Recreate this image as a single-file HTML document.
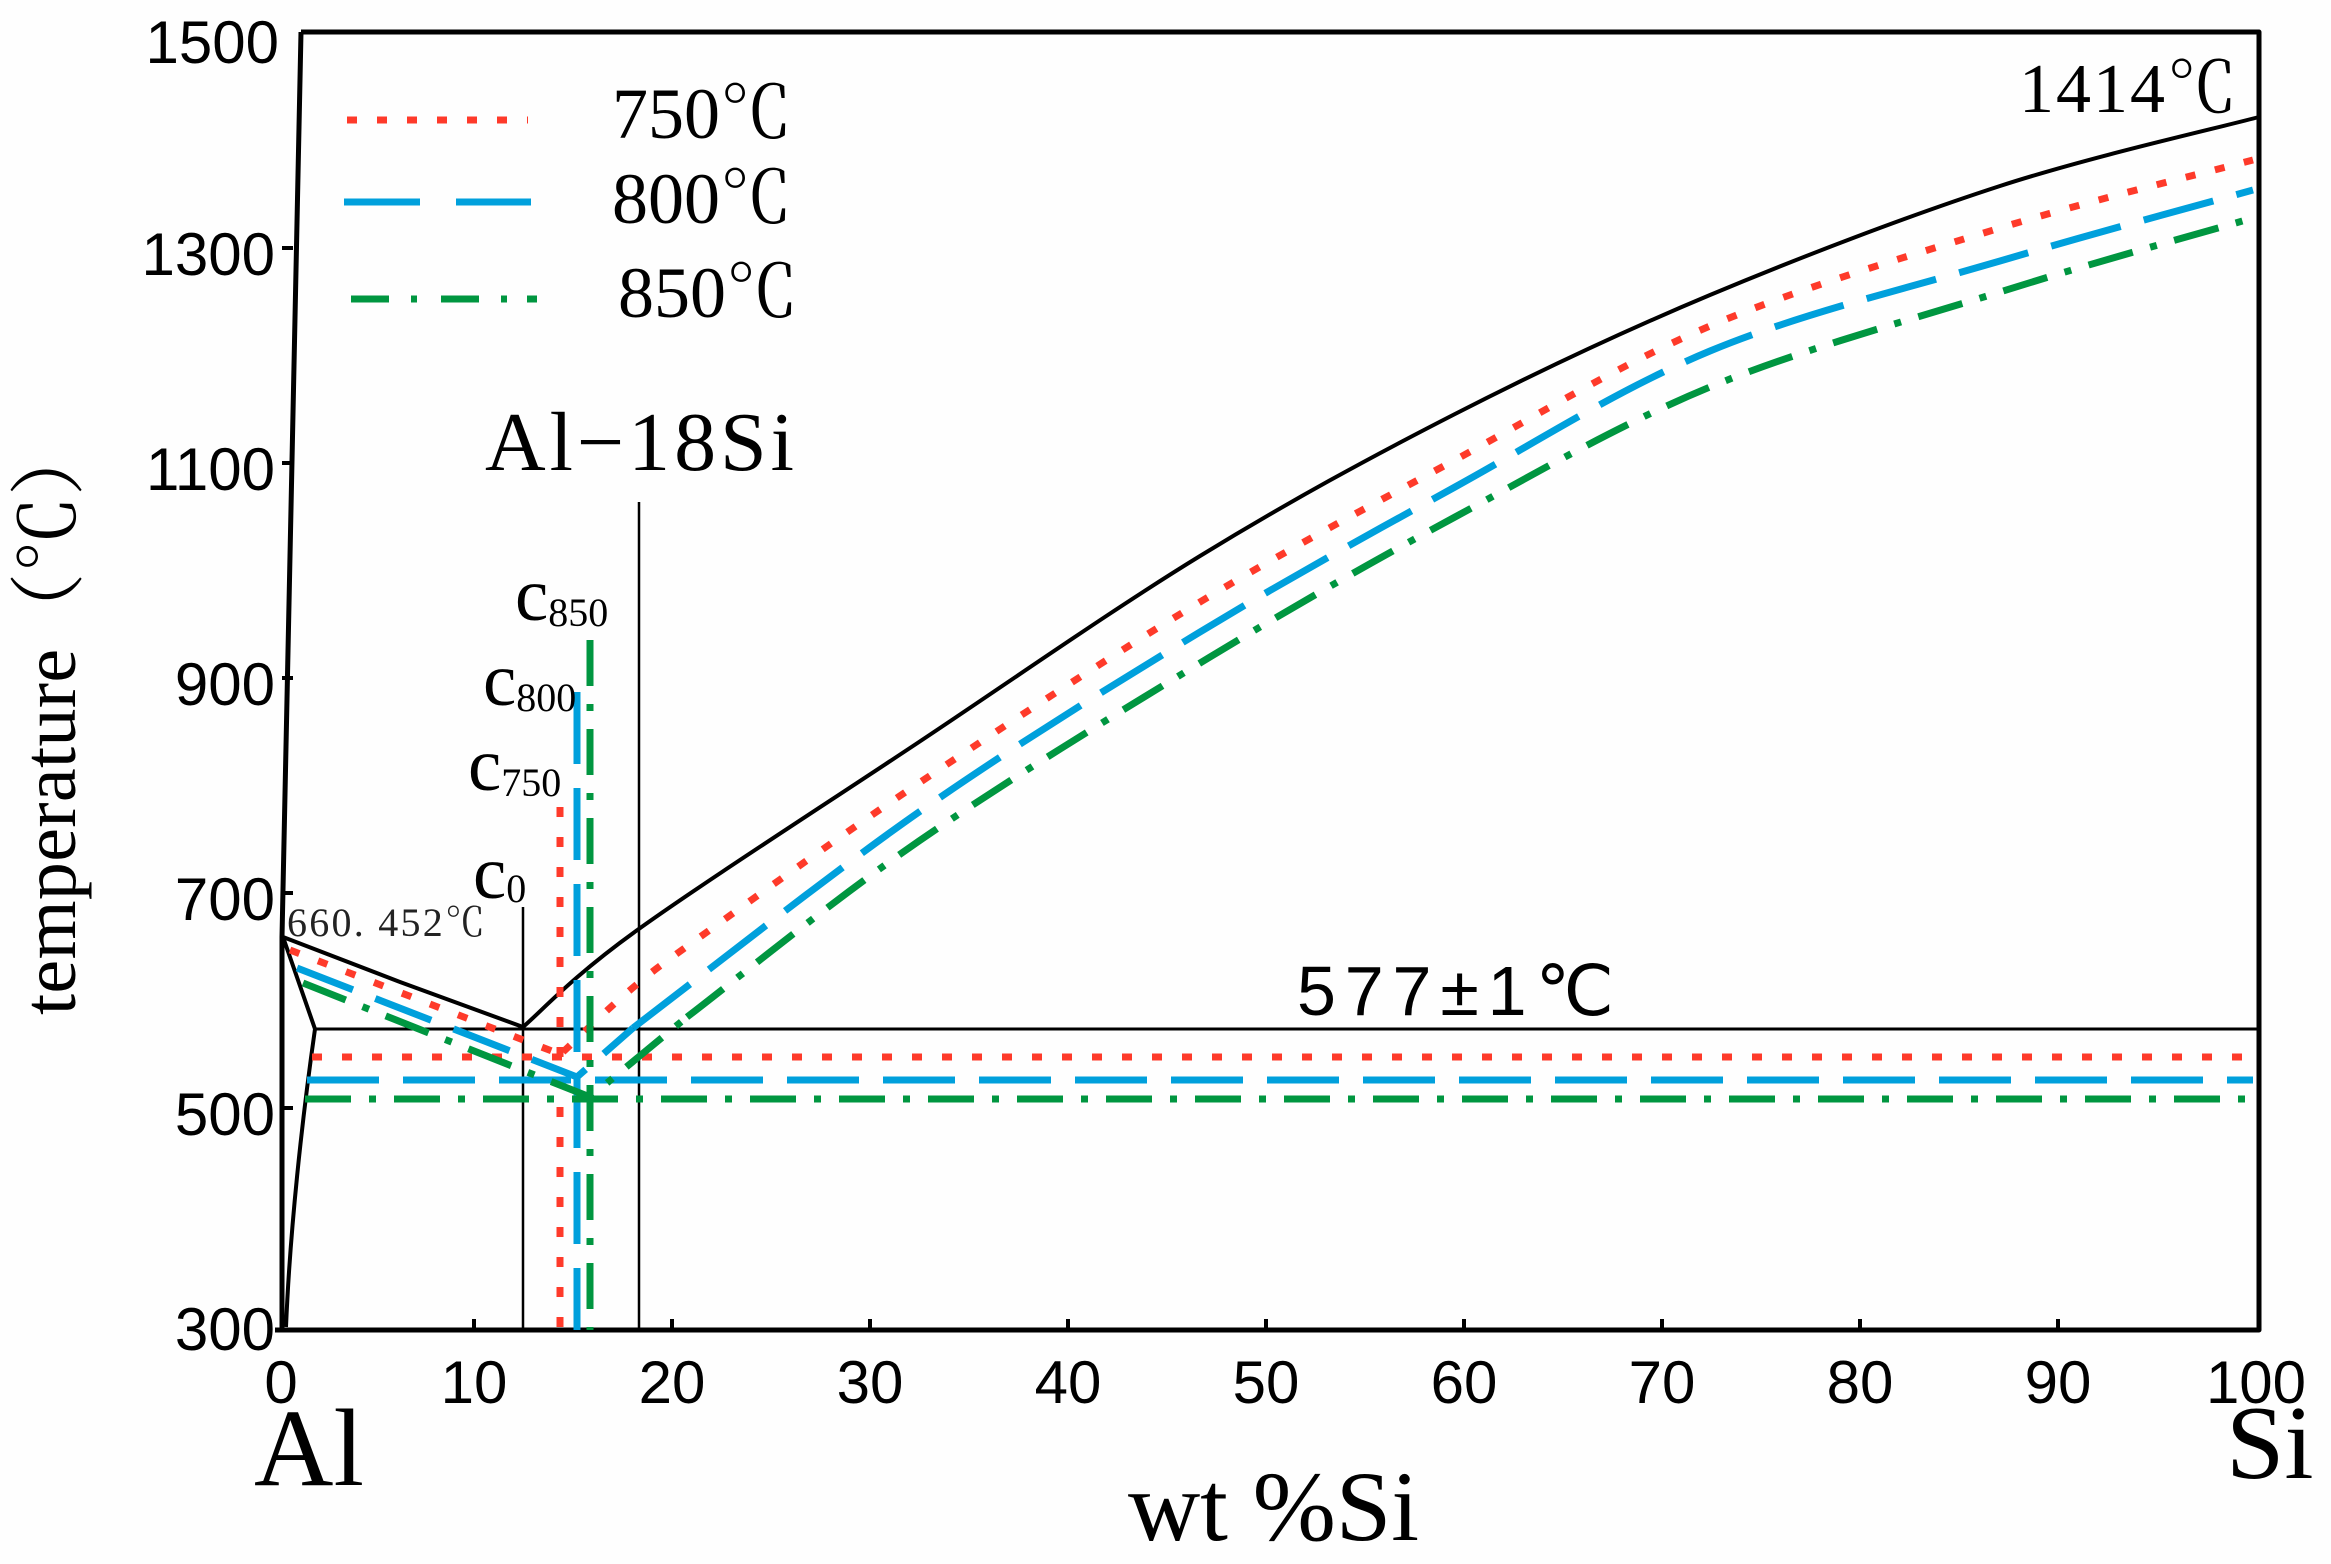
<!DOCTYPE html>
<html><head><meta charset="utf-8"><style>
html,body{margin:0;padding:0;background:#fefefe;}
svg{display:block}
.s{font-family:"Liberation Sans",sans-serif}
.r{font-family:"Liberation Serif","Noto Serif CJK SC",serif}
</style></head><body>
<svg width="2331" height="1564" viewBox="0 0 2331 1564" xmlns="http://www.w3.org/2000/svg">
<rect width="2331" height="1564" fill="#fefefe"/>
<g fill="none" stroke="#000" stroke-linejoin="round">
 <path d="M301,32 L2259,32 L2259,1330 L275,1330" stroke-width="5"/>
 <path d="M301,32 L282,937 L282,1330" stroke-width="5"/>
 <path d="M282,248h11M282,463h11M282,678h11M282,893h11M282,1108h11" stroke-width="4"/>
 <path d="M474,1330v-11M672,1330v-11M870,1330v-11M1068,1330v-11M1266,1330v-11M1464,1330v-11M1662,1330v-11M1860,1330v-11M2058,1330v-11" stroke-width="4"/>
 <path d="M283,937 L315,1029 C302,1120 290,1230 286,1327" stroke-width="4"/>
 <path d="M315,1029 L2259,1029" stroke-width="3"/>
 <path d="M283,937 L400,982 L523,1027" stroke-width="4"/>
 <path d="M523,1027 C541.8,1011 570,978.5 636,931 C702,883.5 825,804.5 919,742 C1013,679.5 1110.7,610.7 1200,556 C1289.3,501.3 1370,457.5 1455,414 C1540,370.5 1619.2,333 1710,295 C1800.8,257 1908.5,215.7 2000,186 C2091.5,156.3 2215.8,128.5 2259,117" stroke-width="4"/>
 <path d="M523,907 V1330 M639,502 V1330" stroke-width="2.5"/>
</g>
<g fill="none" stroke-width="7">
 <g stroke="#fe3a2a" stroke-dasharray="10 20">
  <path d="M290,950 L557,1053"/>
  <path d="M563,1052 C574,1041.8 606.2,1010.2 629,991 C651.8,971.8 651.7,971.7 700,937 C748.3,902.3 835.7,838.8 919,783 C1002.3,727.2 1110.7,655.8 1200,602 C1289.3,548.2 1370,506 1455,460 C1540,414 1619.2,364.7 1710,326 C1800.8,287.3 1909.5,255.7 2000,228 C2090.5,200.3 2210.8,171.3 2253,160"/>
  <path d="M312,1057 H2253"/>
  <path d="M560,807 V1330"/>
  <path d="M347,120 H528"/>
 </g>
 <g stroke="#00a0dc" stroke-dasharray="72 24">
  <path d="M297,968 L577,1077 L633,1028" stroke-dasharray="60 24"/>
  <path d="M633,1028 C680.7,992 824.5,878 919,812 C1013.5,746 1110.7,686.2 1200,632 C1289.3,577.8 1370,533.8 1455,487 C1540,440.2 1619.2,388.7 1710,351 C1800.8,313.3 1909.5,287.8 2000,261 C2090.5,234.2 2210.8,201.8 2253,190"/>
  <path d="M307,1080 H2253"/>
  <path d="M577,692 V1330"/>
  <path d="M344,202 H420 M456,202 H531" stroke-dasharray="none"/>
 </g>
 <g stroke="#009640" stroke-dasharray="46 18 7 18">
  <path d="M303,983 L590,1097 L687,1017"/>
  <path d="M687,1017 C725.7,987.7 831.8,901 919,841 C1006.2,781 1120.7,711 1210,657 C1299.3,603 1371.7,562 1455,517 C1538.3,472 1619.2,424.5 1710,387 C1800.8,349.5 1909.5,320.2 2000,292 C2090.5,263.2 2210.8,230.3 2253,218"/>
  <path d="M305,1099 H2253"/>
  <path d="M590,640 V1330"/>
  <path d="M351,299 H389 M411,299 H417 M441,299 H479 M501,299 H507 M527,299 H537" stroke-dasharray="none"/>
 </g>
</g>
<g class="s" font-size="60" text-anchor="end" fill="#000">
 <text x="279" y="63">1500</text>
 <text x="275" y="275">1300</text>
 <text x="275" y="490">1100</text>
 <text x="275" y="705">900</text>
 <text x="275" y="920">700</text>
 <text x="275" y="1135">500</text>
 <text x="275" y="1350">300</text>
</g>
<g class="s" font-size="60" text-anchor="middle" fill="#000">
 <text x="281" y="1403">0</text>
 <text x="474" y="1403">10</text>
 <text x="672" y="1403">20</text>
 <text x="870" y="1403">30</text>
 <text x="1068" y="1403">40</text>
 <text x="1266" y="1403">50</text>
 <text x="1464" y="1403">60</text>
 <text x="1662" y="1403">70</text>
 <text x="1860" y="1403">80</text>
 <text x="2058" y="1403">90</text>
 <text x="2256" y="1403">100</text>
</g>
<g class="r" font-size="72" fill="#000">
 <text x="612" y="138">750℃</text>
 <text x="612" y="223">800℃</text>
 <text x="618" y="317">850℃</text>
</g>
<text class="r" x="485" y="470" font-size="84" textLength="309">Al−18Si</text>
<text class="r" x="2019" y="112" font-size="70" textLength="218">1414℃</text>
<text class="s" x="1297" y="1015" font-size="70" textLength="317">577±1℃</text>
<text class="r" x="287" y="936" font-size="40" textLength="198" fill="#222">660. 452℃</text>
<g class="r" fill="#000">
 <text x="473" y="898" font-size="75">c<tspan font-size="40" dy="4">0</tspan></text>
 <text x="468" y="790" font-size="75">c<tspan font-size="40" dy="6">750</tspan></text>
 <text x="483" y="705" font-size="75">c<tspan font-size="40" dy="6">800</tspan></text>
 <text x="515" y="620" font-size="75">c<tspan font-size="40" dy="6">850</tspan></text>
</g>
<text class="r" x="254" y="1485" font-size="110">Al</text>
<text class="r" x="2226" y="1478" font-size="105">Si</text>
<text class="r" x="1128" y="1540" font-size="100" textLength="291">wt %Si</text>
<text class="r" font-size="76" transform="translate(75,1015) rotate(-90)" textLength="595">temperature（℃）</text>
</svg>
</body></html>
